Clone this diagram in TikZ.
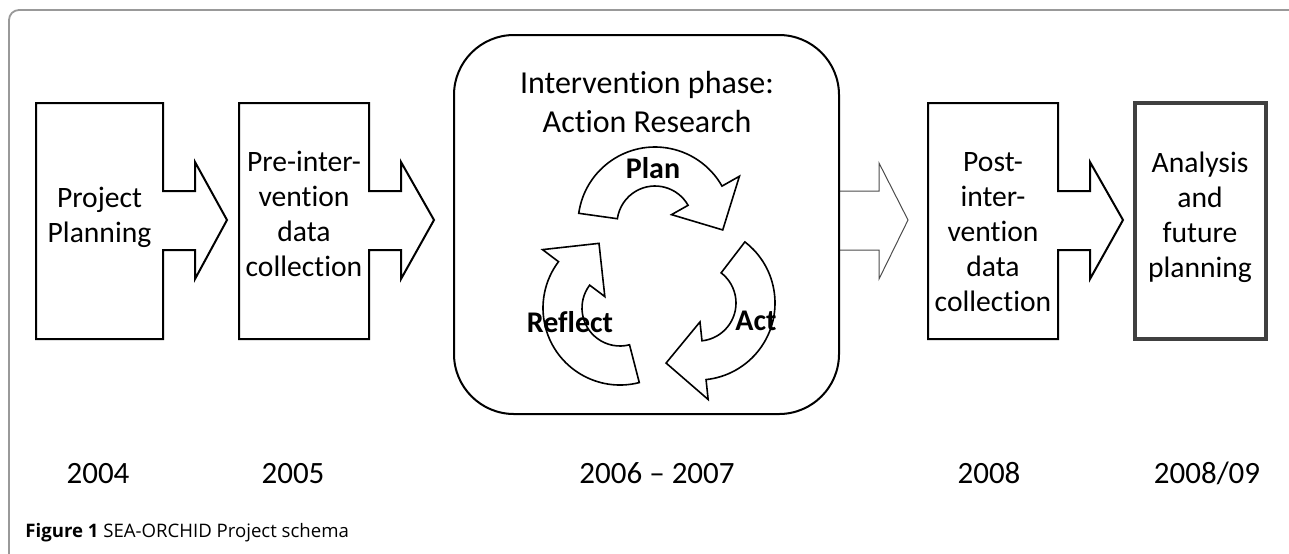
\documentclass[tikz,border=0pt]{standalone}
\usepackage{fontspec}
\setmainfont{Carlito}[Ligatures=NoCommon]
\newfontfamily\capfont{Open Sans}
\usetikzlibrary{calc}

\tikzset{
  callout/.style={draw,line width=1pt,line join=miter},
  thincallout/.style={draw=black!70,line width=0.5pt},
  phasebox/.style={draw,line width=1pt,rounded corners=30pt},
  lastbox/.style={draw=black!75,line width=1.6pt},
  frameline/.style={draw=black!40,line width=0.9pt,rounded corners=5pt},
  cycarrow/.style={draw,line width=0.8pt},
  boxtext/.style={align=center,inner sep=0pt,font=\fontsize{14.8}{17.5}\selectfont},
  titletext/.style={align=center,inner sep=0pt,font=\fontsize{16}{19.5}\selectfont},
  yeartext/.style={anchor=base,inner sep=0pt,font=\fontsize{15.5}{18}\selectfont},
  cyclabel/.style={anchor=base,inner sep=0pt,font=\bfseries\fontsize{15}{18}\selectfont},
}

\newcommand{\cycrin}{38}
\newcommand{\cycrout}{77}
\newcommand{\cychin}{19}
\newcommand{\cychout}{97}
\newcommand{\cyctip}{68}

% #1 name, #2 #3 centre, #4 tail angle, #5 barb angle, #6 tip angle
\newcommand{\cyclearrow}[6]{%
  \coordinate (#1) at (#2,#3);
  \draw[cycarrow] ($(#1)+(#4:\cycrout)$) arc[start angle=#4,end angle=#5,radius=\cycrout]
    -- ($(#1)+(#5:\cychout)$) -- ($(#1)+(#6:\cyctip)$) -- ($(#1)+(#5:\cychin)$)
    -- ($(#1)+(#5:\cycrin)$) arc[start angle=#5,end angle=#4,radius=\cycrin] -- cycle;
}

% #1 left, #2 right, #3 notch, #4 tip
\newcommand{\calloutbox}[4]{%
  \draw[callout] (#1,103) -- (#2,103) -- (#2,191) -- (#3,191) -- (#3,162) -- (#4,220)
    -- (#3,279) -- (#3,250) -- (#2,250) -- (#2,339) -- (#1,339) -- cycle;
}

\begin{document}
\begin{tikzpicture}[x=0.5pt,y=-0.5pt]

  \useasboundingbox (0,0) rectangle (1289,553);

  \begin{scope}
    \clip (0,0) rectangle (1289,553);
    \draw[frameline] (9,600) -- (9,10) -- (1300,10);
  \end{scope}

  \calloutbox{36}{163}{195}{227}
  \calloutbox{239}{369}{401}{434}
  \calloutbox{928}{1058}{1090}{1123}

  \draw[thincallout] (839,191) -- (879,191) -- (879,163) -- (908,220) -- (879,279) -- (879,250) -- (839,250);

  \draw[phasebox] (454,35) rectangle (839,414);
  \draw[lastbox] (1135,103) rectangle (1266,339);

  \cyclearrow{plan}{655}{224}{-172}{-29.5}{5}
  \cyclearrow{act}{698}{303}{-52.5}{84}{118}
  \cyclearrow{reflect}{620}{308}{75.5}{217}{252}

  \node[boxtext] (planning) at (99.5,217) {Project\\Planning};
  \node[boxtext] (pre) at (304,214) {Pre-inter-\\vention\\data\\collection};
  \node[titletext] (phase) at (647,102) {Intervention phase:\\Action Research};
  \node[boxtext] (post) at (993,232) {Post-\\inter-\\vention\\data\\collection};
  \node[boxtext] (analysis) at (1200,217.5) {Analysis\\and\\future\\planning};

  \node[cyclabel] (planlabel) at (653,178) {Plan};
  \node[cyclabel] (actlabel) at (756,330) {Act};
  \node[cyclabel] (reflectlabel) at (570,332) {Reflect};

  \node[yeartext] (y2004) at (98,483) {2004};
  \node[yeartext] (y2005) at (293,483) {2005};
  \node[yeartext] (y2006) at (657,483) {2006 – 2007};
  \node[yeartext] (y2008) at (989,483) {2008};
  \node[yeartext] (y2009) at (1207,483) {2008/09};

  \node[anchor=base west,inner sep=0pt,font=\capfont\fontsize{9.3}{11}\selectfont] (caption) at (25,537)
    {\textbf{Figure 1} SEA-ORCHID Project schema};

\end{tikzpicture}
\end{document}
